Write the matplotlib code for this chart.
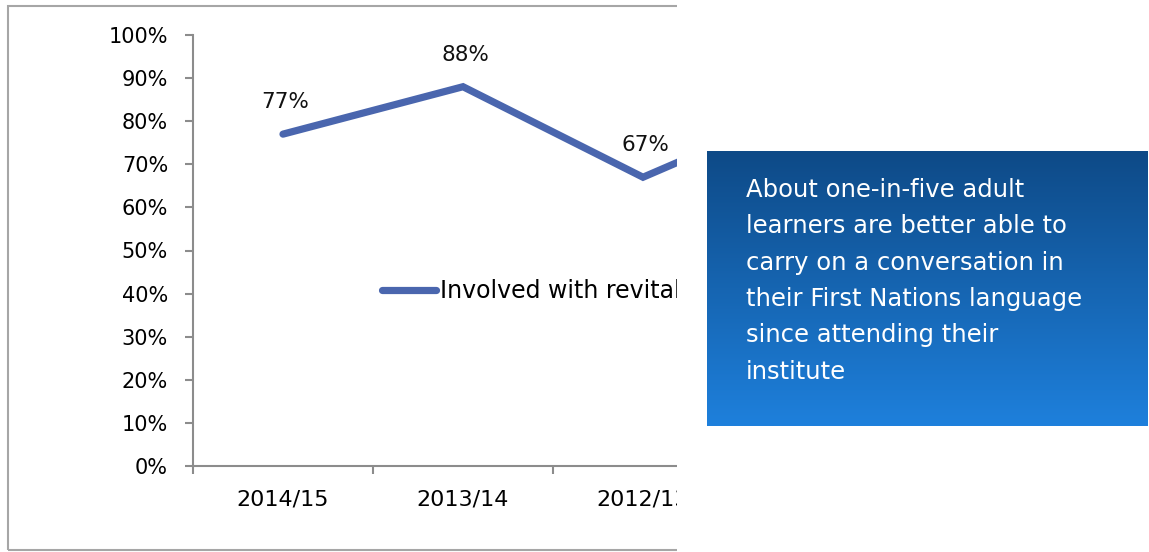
import numpy as np
import matplotlib.pyplot as plt
from matplotlib.patches import Rectangle

# data
years = ['2014/15', '2013/14', '2012/13', '2011/12']
involved = [0.77, 0.88, 0.67, 0.85]
series_name = 'Involved with revitalization'
yticks = np.arange(0, 1.01, 0.1)
note = ('About one-in-five adult\nlearners are better able to\n'
        'carry on a conversation in\ntheir First Nations language\n'
        'since attending their\ninstitute')

plt.rcParams['font.family'] = ['DejaVu Sans']

W, H = 1149, 552
fig = plt.figure(figsize=(W / 100, H / 100), dpi=100)

# chart frame
fig.patches.append(Rectangle((8 / W, 1 - 550 / H), 1, (550 - 6) / H,
                             transform=fig.transFigure, fill=False,
                             edgecolor='#a6a6a6', linewidth=1.5, zorder=0))

ax = fig.add_axes([193 / W, 1 - 466 / H, 720 / W, 431 / H])
x = np.arange(len(years))
line_color = '#4a66ae'
ax.plot(x, involved, color=line_color, lw=5.2, solid_capstyle='round',
        solid_joinstyle='miter', clip_on=False)
for xi, v in zip(x[:3], involved[:3]):
    ax.annotate(f'{v:.0%}', (xi, v), xytext=(1.5, 23), textcoords='offset points',
                ha='center', va='center', fontsize=15.5, color='#111111')

ax.set_xlim(-0.5, len(years) - 0.5)
ax.set_ylim(0, 1)
ax.set_yticks(yticks)
ax.set_yticklabels([f'{t:.0%}' for t in yticks])
ax.set_xticks(x)
ax.set_xticklabels(years)
ax.set_xticks(np.arange(-0.5, len(years), 1.0), minor=True)
ax.tick_params(axis='x', which='major', length=0, pad=17, labelsize=16)
ax.tick_params(axis='x', which='minor', length=6, width=1.5, color='#8c8c8c')
ax.tick_params(axis='y', length=6, width=1.5, color='#8c8c8c', pad=12,
               labelsize=15)
for s in ['top', 'right']:
    ax.spines[s].set_visible(False)
for s in ['left', 'bottom']:
    ax.spines[s].set_color('#8c8c8c')
    ax.spines[s].set_linewidth(1.5)

# legend
fig.legend([plt.Line2D([], [], color=line_color, lw=5.2,
                       solid_capstyle='round')],
           [series_name], loc='center left',
           bbox_to_anchor=(382 / W, 1 - 291 / H), frameon=False,
           fontsize=17, handlelength=2.3, handletextpad=0.15,
           borderpad=0, borderaxespad=0)

# white area cropping the chart on the right
fig.patches.append(Rectangle((677 / W, 0), 1, 1, transform=fig.transFigure,
                             facecolor='white', edgecolor='none', zorder=9))

# gradient box
bx = fig.add_axes([707 / W, 1 - 426 / H, 441 / W, 275 / H])
bx.set_zorder(10)
top_c = np.array([14, 74, 135]) / 255
bot_c = np.array([30, 128, 220]) / 255
t = np.linspace(0, 1, 256)[:, None]
grad = (top_c[None, :] * (1 - t) + bot_c[None, :] * t)[:, None, :]
bx.imshow(grad, aspect='auto', extent=(0, 1, 0, 1))
bx.set_axis_off()
bx.text(39 / 441, 1 - 27 / 275, note, transform=bx.transAxes, color='white',
        fontsize=17.5, va='top', ha='left', linespacing=1.65)

fig.savefig('out.png', dpi=100)
